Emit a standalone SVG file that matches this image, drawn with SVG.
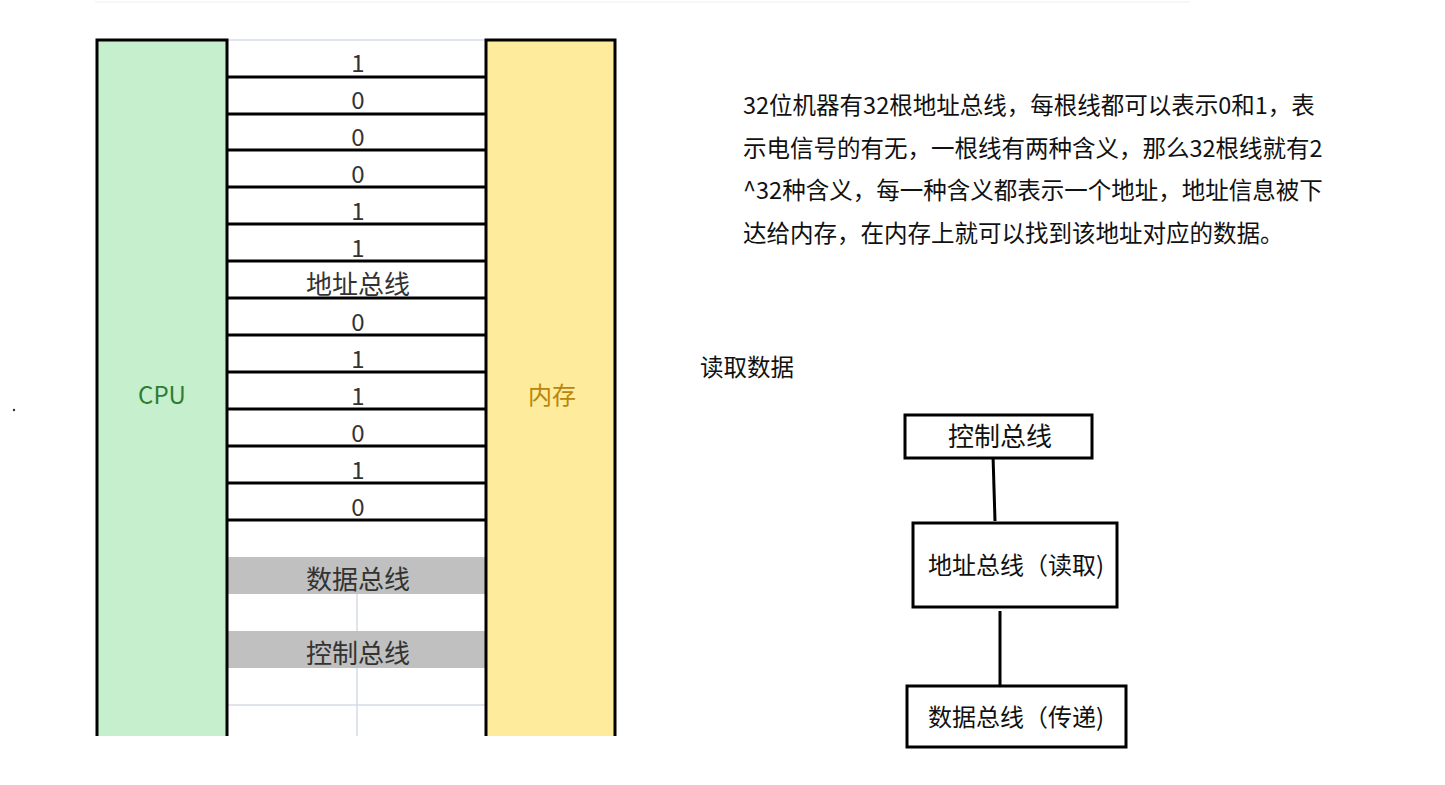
<svg xmlns="http://www.w3.org/2000/svg" width="1445" height="785" viewBox="0 0 1445 785">
<style>
.t{font-family:"Microsoft YaHei","Noto Sans CJK SC",sans-serif;font-size:24px;fill:#333;text-anchor:middle}
.c{font-size:26px}
.p{font-family:"Noto Sans CJK SC",sans-serif;font-size:23.5px;fill:#111}
.b{fill:#fff;stroke:#000;stroke-width:3}
.rl{stroke:#000;stroke-width:3}
.g{stroke:#d6dbe6;stroke-width:1.5}
</style>
<rect width="1445" height="785" fill="#fff"/>
<line x1="95" y1="2" x2="1190" y2="2" stroke="#eee"/>
<circle cx="14" cy="410" r="1.2" fill="#333"/>
<g id="grid">
<line class="g" x1="228" y1="40" x2="486" y2="40"/>
<line class="g" x1="228" y1="705" x2="486" y2="705"/>
<line class="g" x1="357" y1="594" x2="357" y2="631"/>
<line class="g" x1="357" y1="668" x2="357" y2="736"/>
<rect x="228" y="557" width="258" height="37" fill="#c0c0c0"/>
<rect x="228" y="631" width="258" height="37" fill="#c0c0c0"/>
</g>
<g id="cpu"><path d="M97,736 V40 H227 V736" fill="#c6efce" stroke="#000" stroke-width="3"/>
<text x="162" y="404" class="t" style="fill:#2e7d32">CPU</text></g>
<g id="mem"><path d="M486,736 V40 H615 V736" fill="#ffeb9c" stroke="#000" stroke-width="3"/>
<text x="552" y="404" class="t" style="fill:#b8860b">内存</text></g>
<g id="bus">
<line class="rl" x1="227" y1="77" x2="486" y2="77"/>
<line class="rl" x1="227" y1="114" x2="486" y2="114"/>
<line class="rl" x1="227" y1="150" x2="486" y2="150"/>
<line class="rl" x1="227" y1="187" x2="486" y2="187"/>
<line class="rl" x1="227" y1="224" x2="486" y2="224"/>
<line class="rl" x1="227" y1="261" x2="486" y2="261"/>
<line class="rl" x1="227" y1="298" x2="486" y2="298"/>
<line class="rl" x1="227" y1="335" x2="486" y2="335"/>
<line class="rl" x1="227" y1="372" x2="486" y2="372"/>
<line class="rl" x1="227" y1="409" x2="486" y2="409"/>
<line class="rl" x1="227" y1="446" x2="486" y2="446"/>
<line class="rl" x1="227" y1="483" x2="486" y2="483"/>
<line class="rl" x1="227" y1="520" x2="486" y2="520"/>
<text class="t" x="358" y="72">1</text>
<text class="t" x="358" y="109">0</text>
<text class="t" x="358" y="146">0</text>
<text class="t" x="358" y="183">0</text>
<text class="t" x="358" y="220">1</text>
<text class="t" x="358" y="257">1</text>
<text class="t c" x="358" y="294">地址总线</text>
<text class="t" x="358" y="331">0</text>
<text class="t" x="358" y="368">1</text>
<text class="t" x="358" y="405">1</text>
<text class="t" x="358" y="442">0</text>
<text class="t" x="358" y="479">1</text>
<text class="t" x="358" y="516">0</text>
<text class="t c" x="358" y="589">数据总线</text>
<text class="t c" x="358" y="663">控制总线</text>
</g>
<g id="desc">
<text class="p" x="743" y="114">32位机器有32根地址总线，每根线都可以表示0和1，表</text>
<text class="p" x="743" y="157">示电信号的有无，一根线有两种含义，那么32根线就有2</text>
<text class="p" x="743" y="199">^32种含义，每一种含义都表示一个地址，地址信息被下</text>
<text class="p" x="743" y="242">达给内存，在内存上就可以找到该地址对应的数据。</text>
<text class="p" x="700" y="376">读取数据</text>
</g>
<g id="connectors">
<line class="rl" x1="993" y1="455" x2="995" y2="521"/>
<line class="rl" x1="1000" y1="611" x2="1000" y2="685"/>
</g>
<g id="ctrl"><rect class="b" x="905" y="415" width="187" height="43"/><text class="t c" x="1000" y="446" style="fill:#111">控制总线</text></g>
<g id="addr"><rect class="b" x="913" y="523" width="204" height="84"/><text class="t" x="1016" y="574" style="fill:#111">地址总线（读取)</text></g>
<g id="data"><rect class="b" x="907" y="686" width="219" height="61"/><text class="t" x="1016" y="726" style="fill:#111">数据总线（传递)</text></g>
</svg>
